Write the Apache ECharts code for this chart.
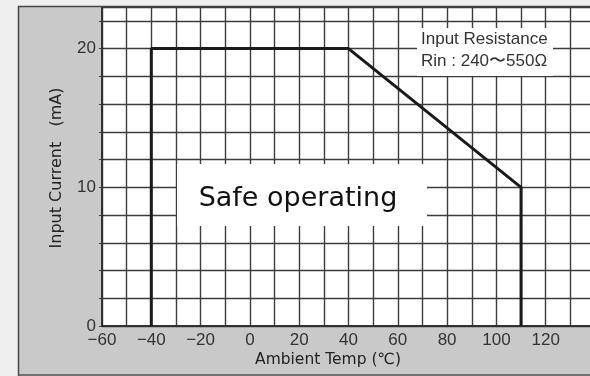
<!DOCTYPE html>
<html>
<head>
<meta charset="utf-8">
<script src="https://cdn.jsdelivr.net/npm/echarts@6/dist/echarts.min.js"></script>
<style>
  html, body { margin: 0; padding: 0; background: #efefef; }
  #chart { width: 590px; height: 376px; }
</style>
</head>
<body>
<div id="chart"></div>
<script>
// Derating boundary: ambient temperature (°C) vs allowed input current (mA)
const temps = [-40, -40, 40, 110, 110];
const currents = [0, 20, 20, 10, 0];

// Labelled ticks
const xTickLabels = [-60, -40, -20, 0, 20, 40, 60, 80, 100, 120];
const yTickLabels = [0, 10, 20];

const xAxisTitle = 'Ambient Temp (\u2103)';
const yAxisTitle = 'Input Current   (mA)';
const noteLines = ['Input Resistance', 'Rin : 240\u301C550\u03A9'];
const regionText = 'Safe operating';

const chart = echarts.init(document.getElementById('chart'), null, { renderer: 'canvas' });

const gridColor = '#3c3c3c';
const labelFont = '"Liberation Sans", Arial, sans-serif';
const titleFont = '"DejaVu Sans", Verdana, sans-serif';

chart.setOption({
  backgroundColor: '#c9c9c9',
  animation: false,
  grid: {
    left: 102, top: 7, width: 493, height: 319,
    outerBoundsMode: 'none', containLabel: false,
    show: true, backgroundColor: '#ffffff',
    borderColor: '#2a2a2a', borderWidth: 1.5
  },
  xAxis: {
    type: 'value', min: -60, max: 140, interval: 10,
    axisLine: { show: true, onZero: false, lineStyle: { color: '#2a2a2a', width: 1.5 } },
    axisTick: { show: false },
    splitLine: { show: true, lineStyle: { color: gridColor, width: 1.4 } },
    axisLabel: {
      margin: 6, color: '#333', fontSize: 17, fontFamily: labelFont,
      showMaxLabel: false,
      formatter: v => xTickLabels.includes(v) ? String(v).replace('-', '\u2212') : ''
    }
  },
  yAxis: {
    type: 'value', min: 0, max: 23, interval: 2,
    axisLine: { show: true, onZero: false, lineStyle: { color: '#2a2a2a', width: 1.5 } },
    axisTick: { show: true, length: 3, lineStyle: { color: gridColor } },
    splitLine: { show: true, lineStyle: { color: gridColor, width: 1.4 } },
    axisLabel: {
      margin: 6, color: '#333', fontSize: 17, fontFamily: labelFont,
      showMaxLabel: false,
      formatter: v => yTickLabels.includes(v) ? String(v) : ''
    }
  },
  series: [{
    type: 'line',
    data: temps.map((t, i) => [t, currents[i]]),
    symbol: 'none',
    lineStyle: { color: '#1a1a1a', width: 3 },
    z: 5
  }],
  graphic: [
    // light page margin around the chart panel
    { type: 'rect', shape: { x: 0, y: 0, width: 18, height: 376 }, style: { fill: '#efefef' }, z: 1 },
    { type: 'rect', shape: { x: 0, y: 0, width: 590, height: 6 }, style: { fill: '#efefef' }, z: 1 },
    // panel frame
    { type: 'polyline', shape: { points: [[18.5, 376], [18.5, 6.5], [590, 6.5]] },
      style: { stroke: '#444', lineWidth: 1.5, fill: null }, z: 2 },
    { type: 'line', shape: { x1: 18, y1: 375, x2: 590, y2: 375 },
      style: { stroke: '#555', lineWidth: 1.5 }, z: 2 },
    // axis titles
    { type: 'text', x: 328, y: 360, z: 10,
      style: { text: xAxisTitle, fill: '#222', font: '15.5px ' + titleFont,
               textAlign: 'center', textVerticalAlign: 'middle' } },
    { type: 'text', x: 57, y: 168, rotation: Math.PI / 2, z: 10,
      style: { text: yAxisTitle, fill: '#222', font: '16px ' + titleFont,
               textAlign: 'center', textVerticalAlign: 'middle' } },
    // resistance note box
    { type: 'rect', shape: { x: 417, y: 28, width: 136, height: 48 },
      style: { fill: '#ffffff' }, z: 100 },
    { type: 'text', x: 421, y: 39, z: 101,
      style: { text: noteLines[0], fill: '#333', font: '17px ' + labelFont,
               textAlign: 'left', textVerticalAlign: 'middle' } },
    { type: 'text', x: 421, y: 61, z: 101,
      style: { text: noteLines[1], fill: '#333', font: '17px ' + labelFont,
               textAlign: 'left', textVerticalAlign: 'middle' } },
    // region label box
    { type: 'rect', shape: { x: 177, y: 164, width: 250, height: 62 },
      style: { fill: '#ffffff' }, z: 100 },
    { type: 'text', x: 298, y: 199, z: 101,
      style: { text: regionText, fill: '#111', font: '27px ' + titleFont,
               textAlign: 'center', textVerticalAlign: 'middle' } }
  ]
});
</script>
</body>
</html>
